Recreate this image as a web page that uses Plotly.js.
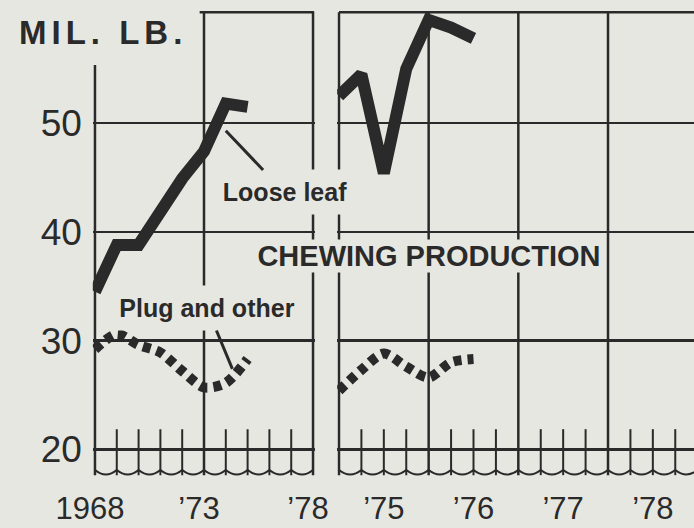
<!DOCTYPE html>
<html>
<head>
<meta charset="utf-8">
<script src="https://cdn.plot.ly/plotly-3.0.1.min.js"></script>
<style>
  html, body { margin: 0; padding: 0; background: #e7e7e1; }
  #chart { width: 694px; height: 528px; }
  .annotation[data-index="0"] .annotation-text { letter-spacing: 5px; }
</style>
</head>
<body>
<div id="chart"></div>
<script>
// ---- Data ----
const annualYears = [1968, 1969, 1970, 1971, 1972, 1973, 1974, 1975];
const looseLeafAnnual = [34.5, 38.8, 38.8, 41.8, 44.9, 47.4, 51.8, 51.5];
const plugAnnual = [29.2, 30.6, 29.6, 28.9, 27.2, 25.7, 26.1, 28.3];

// quarterly panel, points at quarter ends (1975.0 = start of 1975)
const quarterPoints = [1975.0, 1975.25, 1975.5, 1975.75, 1976.0, 1976.25, 1976.5];
const looseLeafQuarterly = [52.5, 54.5, 45.4, 55.0, 59.5, 58.8, 57.8];
const plugQuarterly = [25.4, 27.3, 28.8, 27.6, 26.6, 28.0, 28.3];

// tick labels
const leftTickVals = [1968, 1973, 1978];
const leftTickText = ['1968', '\u201973', '\u201978'];
const rightTickVals = [1975.5, 1976.5, 1977.5, 1978.5];
const rightTickText = ['\u201975', '\u201976', '\u201977', '\u201978'];
const yTickVals = [20, 30, 40, 50];
const yTickText = ['20', '30', '40', '50'];

// ---- Style ----
const bg = '#e7e7e1';
const ink = '#2a2a2a';
const fam = '"Liberation Sans", Arial, Helvetica, sans-serif';
const gw = 2.5;

const Y_TOP = 60.2, Y_CUSP = 18.09, Y_CTRL = 17.27, Y_LOW = 17.62, Y_MINOR = 21.85;

// ---- Decorative frame / ticks built from the tick arrays ----
const shapes = [];
function vline(xref, yref, x, y0, y1, w) {
  shapes.push({type: 'line', xref: xref, yref: yref, x0: x, x1: x, y0: y0, y1: y1,
               line: {color: ink, width: w}, layer: 'below'});
}
// left panel: years 1968..1978
const leftYears = [];
for (let yv = leftTickVals[0]; yv <= leftTickVals[leftTickVals.length - 1]; yv++) leftYears.push(yv);
leftYears.forEach(function (yv) {
  if (yv === leftTickVals[0]) vline('x', 'y', yv, Y_LOW, 55.35, gw);
  else if (leftTickVals.indexOf(yv) >= 0) vline('x', 'y', yv, Y_LOW, Y_TOP, gw);
  else vline('x', 'y', yv, Y_LOW, Y_MINOR, 2);
});
shapes.push({type: 'line', xref: 'x', yref: 'y', x0: 1972.8, x1: 1978.05, y0: Y_TOP, y1: Y_TOP,
             line: {color: ink, width: gw}, layer: 'below'});
let pL = 'M ' + leftYears[0] + ',' + Y_CUSP;
for (let i = 0; i < leftYears.length - 1; i++) {
  const a = leftYears[i], b = leftYears[i + 1];
  pL += ' Q ' + ((a + b) / 2) + ',' + Y_CTRL + ' ' + b + ',' + Y_CUSP;
}
shapes.push({type: 'path', xref: 'x', yref: 'y', path: pL, line: {color: ink, width: 2},
             fillcolor: 'rgba(0,0,0,0)', layer: 'below'});

// right panel: quarters 1975..1979
const rightQ = [];
for (let q = 0; q <= 16; q++) rightQ.push(1975 + q / 4);
rightQ.forEach(function (qv) {
  if (Math.abs(qv - Math.round(qv)) < 1e-9) vline('x2', 'y2', qv, Y_LOW, Y_TOP, gw);
  else vline('x2', 'y2', qv, Y_LOW, Y_MINOR, 2);
});
shapes.push({type: 'line', xref: 'x2', yref: 'y2', x0: 1975, x1: 1979, y0: Y_TOP, y1: Y_TOP,
             line: {color: ink, width: gw}, layer: 'below'});
let pR = 'M ' + rightQ[0] + ',' + Y_CUSP;
for (let i = 0; i < rightQ.length - 1; i++) {
  const a = rightQ[i], b = rightQ[i + 1];
  pR += ' Q ' + ((a + b) / 2) + ',' + Y_CTRL + ' ' + b + ',' + Y_CUSP;
}
shapes.push({type: 'path', xref: 'x2', yref: 'y2', path: pR, line: {color: ink, width: 2},
             fillcolor: 'rgba(0,0,0,0)', layer: 'below'});

// ---- Traces ----
const traces = [
  {x: annualYears, y: looseLeafAnnual, xaxis: 'x', yaxis: 'y', mode: 'lines',
   line: {color: ink, width: 12}, name: 'Loose leaf', hoverinfo: 'skip'},
  {x: annualYears, y: plugAnnual, xaxis: 'x', yaxis: 'y', mode: 'lines',
   line: {color: ink, width: 10, dash: '8px,6px', shape: 'spline', smoothing: 0.8},
   name: 'Plug and other', hoverinfo: 'skip'},
  {x: quarterPoints, y: looseLeafQuarterly, xaxis: 'x2', yaxis: 'y2', mode: 'lines',
   line: {color: ink, width: 12}, name: 'Loose leaf (quarterly)', hoverinfo: 'skip'},
  {x: quarterPoints, y: plugQuarterly, xaxis: 'x2', yaxis: 'y2', mode: 'lines',
   line: {color: ink, width: 10, dash: '8px,6px', shape: 'spline', smoothing: 0.8},
   name: 'Plug and other (quarterly)', hoverinfo: 'skip'}
];

// ---- Layout ----
const W = 694, H = 528, T = 9, B = 51;
const plotH = H - T - B;
function py(px) { return (H - B - px) / plotH; }

const xTickFont = {family: fam, size: 31, color: ink};
const layout = {
  width: W, height: H,
  margin: {l: 0, r: 0, t: T, b: B, pad: 0},
  paper_bgcolor: bg, plot_bgcolor: bg,
  showlegend: false,
  xaxis: {domain: [92.8 / W, 315.2 / W], range: [1967.9, 1978.1], anchor: 'y',
          showgrid: false, zeroline: false, showline: false, ticks: '',
          tickmode: 'array', tickvals: leftTickVals, ticktext: leftTickText,
          tickfont: xTickFont, ticklabelstandoff: 10, ticklabelshift: -5},
  xaxis2: {domain: [337.2 / W, 1], range: [1974.98, 1978.959], anchor: 'y2',
           showgrid: false, zeroline: false, showline: false, ticks: '',
           tickmode: 'array', tickvals: rightTickVals, ticktext: rightTickText,
           tickfont: xTickFont, ticklabelstandoff: 10},
  yaxis: {domain: [0, 1], range: [17.45, 60.5], anchor: 'x',
          showgrid: true, gridcolor: ink, gridwidth: gw, zeroline: false, showline: false,
          ticks: '', tickmode: 'array', tickvals: yTickVals, ticktext: yTickText,
          tickfont: {family: fam, size: 37, color: ink}, ticklabelstandoff: 10},
  yaxis2: {domain: [0, 1], range: [17.45, 60.5], anchor: 'x2', matches: 'y',
           showgrid: true, gridcolor: ink, gridwidth: gw, zeroline: false, showline: false,
           ticks: '', tickmode: 'array', tickvals: yTickVals, showticklabels: false},
  shapes: shapes,
  annotations: [
    {text: '<b>MIL. LB.</b>', xref: 'paper', yref: 'paper', x: 103 / W, y: py(32),
     xanchor: 'center', yanchor: 'middle', showarrow: false,
     font: {family: fam, size: 33, color: ink}},
    {text: '<b>Loose leaf</b>', xref: 'x', yref: 'y', x: 1974, y: 49.3, ax: 58.7, ay: 61.7,
     showarrow: true, arrowhead: 0, arrowwidth: 3, arrowcolor: ink, standoff: 0,
     bgcolor: bg, width: 140, height: 44, borderpad: 0,
     font: {family: fam, size: 25, color: ink}},
    {text: '<b>Plug and other</b>', xref: 'x', yref: 'y', x: 1974.3, y: 27.4, ax: -25.3, ay: -60.8,
     showarrow: true, arrowhead: 0, arrowwidth: 3, arrowcolor: ink, standoff: 0,
     bgcolor: bg, width: 192, height: 44, borderpad: 0,
     font: {family: fam, size: 25, color: ink}},
    {text: '<b>CHEWING PRODUCTION</b>', xref: 'paper', yref: 'paper', x: 429 / W, y: py(256),
     xanchor: 'center', yanchor: 'middle', showarrow: false,
     bgcolor: bg, width: 350, height: 32, borderpad: 0,
     font: {family: fam, size: 29, color: ink}}
  ]
};

Plotly.newPlot('chart', traces, layout, {staticPlot: true, displayModeBar: false});
</script>
</body>
</html>
